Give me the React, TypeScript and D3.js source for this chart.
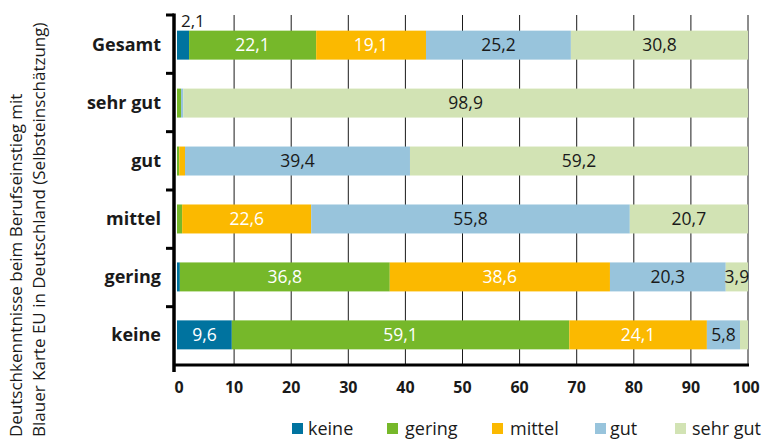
import React from "react";
import * as d3 from "d3";

const categories = ["Gesamt", "sehr gut", "gut", "mittel", "gering", "keine"];
const seriesNames = ["keine", "gering", "mittel", "gut", "sehr gut"];
const keineValues = [2.1, 0, 0, 0, 0.5, 9.6];
const geringValues = [22.1, 0.7, 0.4, 0.9, 36.8, 59.1];
const mittelValues = [19.1, 0, 1.0, 22.6, 38.6, 24.1];
const gutValues = [25.2, 0.4, 39.4, 55.8, 20.3, 5.8];
const sehrGutValues = [30.8, 98.9, 59.2, 20.7, 3.9, 1.4];
const xTicks = [0, 10, 20, 30, 40, 50, 60, 70, 80, 90, 100];
const yTitleLines = [
  "Deutschkenntnisse beim Berufseinstieg mit",
  "Blauer Karte EU in Deutschland (Selbsteinschätzung)",
];

const colors = ["#00739f", "#76b82a", "#fbb900", "#98c4dc", "#d2e3b4"];
const labelColors = ["#ffffff", "#ffffff", "#ffffff", "#1a1a1a", "#1a1a1a"];

const W = 765;
const H = 440;
const margin = { top: 15, right: 17, bottom: 75, left: 176 };
const FONT = "'Open Sans', 'Noto Sans', sans-serif";

export default function App() {
  const seriesValues = [keineValues, geringValues, mittelValues, gutValues, sehrGutValues];
  const rows = categories.map((c, i) => {
    const r: any = { cat: c };
    seriesNames.forEach((s, j) => (r[s] = seriesValues[j][i]));
    return r;
  });
  const stack = d3.stack<any>().keys(seriesNames).offset(d3.stackOffsetExpand);
  const layers = stack(rows);

  const x = d3.scaleLinear().domain([0, 1]).range([margin.left + 1, W - margin.right]);
  const xPct = d3.scaleLinear().domain([0, 100]).range([margin.left + 1, W - margin.right]);
  const y = d3
    .scaleBand<string>()
    .domain(categories)
    .range([margin.top, H - margin.bottom])
    .paddingInner(0.5)
    .paddingOuter(0.27);
  const step = (H - margin.bottom - margin.top) / categories.length;
  const axisY = H - margin.bottom;
  const spineX = margin.left - 2;

  const legendItems = [
    { sq: 292, tx: 308 },
    { sq: 387, tx: 405 },
    { sq: 492, tx: 510 },
    { sq: 595, tx: 610 },
    { sq: 675, tx: 692 },
  ];

  return (
    <svg width={W} height={H} style={{ position: "absolute", left: 0, top: 0, background: "#fff" }}>
      {xTicks.filter((t) => t > 0).map((t) => (
        <line key={"g" + t} x1={xPct(t)} x2={xPct(t)} y1={margin.top} y2={axisY} stroke="#1a1a1a" strokeWidth={1} />
      ))}
      {layers.map((layer, j) => (
        <g key={layer.key}>
          {layer.map((d, i) => {
            const x0 = x(d[0]);
            const x1 = x(d[1]);
            const w = x1 - x0;
            if (w <= 0) return null;
            return (
              <rect key={i} x={x0} y={y(categories[i])!} width={w} height={y.bandwidth()} fill={colors[j]} />
            );
          })}
        </g>
      ))}
      {layers.map((layer, j) => (
        <g key={"l" + layer.key}>
          {layer.map((d, i) => {
            const v = seriesValues[j][i];
            if (v < 2) return null;
            const x0 = x(d[0]);
            const x1 = x(d[1]);
            const w = x1 - x0;
            const label = d3.format(".1f")(v).replace(".", ",");
            const yc = y(categories[i])! + y.bandwidth() / 2;
            if (w < 22) {
              return (
                <text key={i} x={x0 + 4} y={y(categories[i])! - 4} fontFamily={FONT} fontSize={17} fill="#1a1a1a">
                  {label}
                </text>
              );
            }
            return (
              <text key={i} x={(x0 + x1) / 2} y={yc} dy="0.35em" textAnchor="middle" fontFamily={FONT} fontSize={17.5} fill={labelColors[j]}>
                {label}
              </text>
            );
          })}
        </g>
      ))}
      <line x1={spineX - 1} x2={xPct(100) + 1} y1={axisY} y2={axisY} stroke="#000" strokeWidth={3} />
      {xTicks.map((t) => (
        <text key={"t" + t} x={xPct(t) + (t === 0 ? 2 : t === 100 ? -2 : 0)} y={axisY + 22} dy="0.35em" textAnchor="middle" fontFamily={FONT} fontSize={16} fontWeight="bold" fill="#1a1a1a">
          {t}
        </text>
      ))}
      <line x1={spineX} x2={spineX} y1={margin.top - 1.5} y2={axisY + 7} stroke="#000" strokeWidth={3.5} />
      {d3.range(categories.length).map((i) => (
        <line key={"yt" + i} x1={spineX - 8} x2={spineX} y1={margin.top + i * step} y2={margin.top + i * step} stroke="#000" strokeWidth={3} />
      ))}
      {categories.map((c) => (
        <text key={"c" + c} x={161} y={y(c)! + y.bandwidth() / 2} dy="0.35em" textAnchor="end" fontFamily={FONT} fontSize={18} fontWeight="bold" fill="#1a1a1a">
          {c}
        </text>
      ))}
      {yTitleLines.map((l, i) => (
        <text key={"yl" + i} transform={`translate(${22 + i * 23},437) rotate(-90)`} textAnchor="start" fontFamily={FONT} fontSize={17} fill="#1a1a1a">
          {l}
        </text>
      ))}
      {seriesNames.map((s, j) => (
        <g key={"lg" + s}>
          <rect x={legendItems[j].sq} y={423} width={11} height={11} fill={colors[j]} />
          <text x={legendItems[j].tx} y={435} fontFamily={FONT} fontSize={18} fill="#1a1a1a">
            {s}
          </text>
        </g>
      ))}
    </svg>
  );
}
